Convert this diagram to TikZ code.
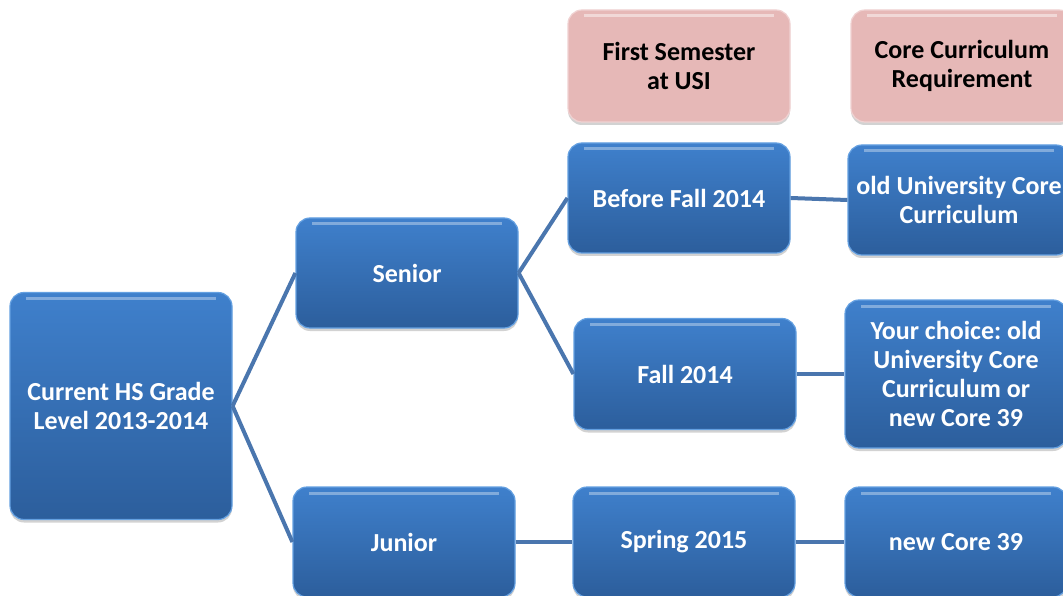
\documentclass[tikz,border=0pt]{standalone}
\usepackage{fontspec}
\setmainfont{Carlito}
\frenchspacing
\usetikzlibrary{shadows}
\definecolor{bluetop}{RGB}{63,128,204}
\definecolor{bluebot}{RGB}{44,94,156}
\definecolor{blueedge}{RGB}{100,160,225}
\definecolor{pinkfill}{RGB}{230,184,183}
\definecolor{pinkedge}{RGB}{240,210,210}
\definecolor{connc}{RGB}{74,118,174}
\tikzset{
  basebox/.style={rounded corners=14pt, align=center, inner sep=2pt,
    font=\bfseries\fontsize{26}{29}\selectfont,
    drop shadow={opacity=0.35, shadow xshift=0pt, shadow yshift=-3pt},
    line width=1.2pt},
  bluebox/.style={basebox, top color=bluetop, bottom color=bluebot, draw=blueedge, text=white,
    path picture={\draw[white,opacity=0.35,line width=3pt]
      ([xshift=16pt,yshift=-6pt]path picture bounding box.north west) --
      ([xshift=-16pt,yshift=-6pt]path picture bounding box.north east);}},
  pinkbox/.style={basebox, fill=pinkfill, draw=pinkedge, text=black,
    path picture={\draw[white,opacity=0.45,line width=3pt]
      ([xshift=16pt,yshift=-6pt]path picture bounding box.north west) --
      ([xshift=-16pt,yshift=-6pt]path picture bounding box.north east);}},
  conn/.style={draw=connc, line width=4pt}
}
\begin{document}
\begin{tikzpicture}[x=1pt,y=-1pt]
\useasboundingbox (0,0) rectangle (1063,596);
\fill[white] (0,0) rectangle (1063,596);
% header boxes
\node[pinkbox, minimum width=222pt, minimum height=112pt] (fs) at (679,66) {First Semester\\at USI};
\node[pinkbox, minimum width=222pt, minimum height=112pt] (cc) at (962,66) {Core Curriculum\\Requirement};
% tree
\node[bluebox, minimum width=222pt, minimum height=227pt] (cur) at (121,406) {Current HS Grade\\Level 2013-2014};
\node[bluebox, minimum width=222pt, minimum height=110pt] (sen) at (407,273) {Senior};
\node[bluebox, minimum width=222pt, minimum height=110pt] (jun) at (404,542) {Junior};
\node[bluebox, minimum width=222pt, minimum height=110pt] (bf) at (679,198) {Before Fall 2014};
\node[bluebox, minimum width=222pt, minimum height=111pt] (f14) at (685,374) {Fall 2014};
\node[bluebox, minimum width=222pt, minimum height=110pt] (sp) at (684,542) {Spring 2015};
\node[bluebox, minimum width=222pt, minimum height=110pt] (old) at (959,200) {old University Core\\Curriculum};
\node[bluebox, minimum width=222pt, minimum height=148pt] (yc) at (956,374) {Your choice: old\\University Core\\Curriculum or\\new Core 39};
\node[bluebox, minimum width=222pt, minimum height=110pt] (nc) at (956,542) {new Core 39};
% connectors
\draw[conn] (cur.east) -- (sen.west);
\draw[conn] (cur.east) -- (jun.west);
\draw[conn] (sen.east) -- (bf.west);
\draw[conn] (sen.east) -- (f14.west);
\draw[conn] (bf.east) -- (old.west);
\draw[conn] (f14.east) -- (yc.west);
\draw[conn] (jun.east) -- (sp.west);
\draw[conn] (sp.east) -- (nc.west);
\end{tikzpicture}
\end{document}
